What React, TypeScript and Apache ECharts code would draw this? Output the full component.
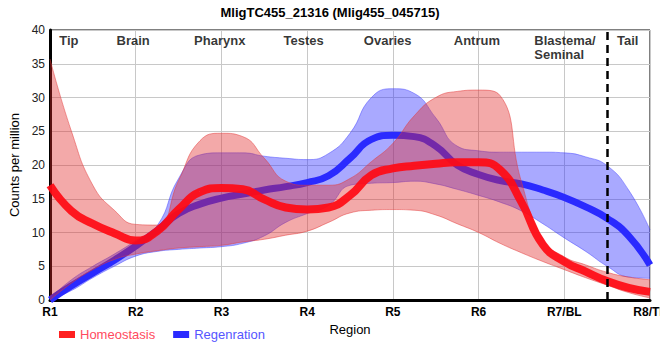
import React, { useEffect, useRef } from "react";
import * as echarts from "echarts";

const chartTitle = "MligTC455_21316 (Mlig455_045715)";
const regionTicks = ["R1", "R2", "R3", "R4", "R5", "R6", "R7/BL", "R8/TL"];
const tissueLabels = ["Tip", "Brain", "Pharynx", "Testes", "Ovaries", "Antrum", "Blastema/\nSeminal", "Tail"];
const tissueX = [1.22, 1.97, 2.98, 3.96, 4.94, 5.98, 6.65, 7.74];
const tailBoundary = 7.5;

const xs = [1, 1.25, 1.5, 1.75, 2, 2.25, 2.5, 2.75, 3, 3.25, 3.5, 3.75, 4, 4.25, 4.5, 4.75, 5, 5.25, 5.5, 5.75, 6, 6.25, 6.5, 6.75, 7, 7.25, 7.5, 7.75, 8];

const homeoMean = [17.0, 13.2, 11.3, 9.9, 8.8, 10.2, 13.4, 16.0, 16.6, 16.4, 14.9, 13.7, 13.4, 13.7, 15.5, 18.5, 19.5, 19.9, 20.2, 20.4, 20.4, 19.3, 14.5, 8.2, 5.7, 4.2, 2.8, 1.8, 1.2];
const homeoUpper = [35.7, 25.0, 17.0, 13.3, 11.2, 11.1, 17.7, 23.6, 24.7, 24.2, 21.0, 17.6, 17.0, 17.0, 18.0, 20.5, 23.2, 27.3, 30.0, 30.9, 31.1, 30.3, 17.5, 9.0, 6.4, 5.2, 4.1, 3.4, 3.0];
const homeoLower = [0, 2.5, 4.5, 6.0, 6.8, 7.3, 7.7, 7.9, 8.1, 8.6, 9.0, 9.6, 10.2, 11.5, 12.9, 13.3, 13.4, 13.3, 12.6, 11.3, 10.0, 8.4, 7.0, 5.7, 4.5, 3.3, 2.2, 1.1, 0.3];

const regenMean = [0.0, 2.1, 4.0, 5.9, 8.0, 10.3, 12.8, 14.2, 15.1, 15.7, 16.3, 16.8, 17.4, 18.4, 21.0, 23.8, 24.4, 24.2, 22.8, 20.0, 18.6, 17.7, 17.2, 16.3, 15.2, 13.8, 12.1, 9.5, 5.2];
const regenUpper = [0.3, 3.0, 5.0, 6.8, 8.8, 11.0, 18.0, 21.5, 21.8, 21.8, 21.3, 21.0, 20.8, 21.7, 24.7, 30.0, 31.3, 30.6, 27.0, 22.8, 22.1, 21.9, 21.9, 21.9, 21.8, 21.2, 19.9, 16.3, 10.4];
const regenLower = [0, 1.4, 3.3, 5.0, 6.5, 7.2, 7.5, 7.7, 7.9, 8.4, 9.5, 11.5, 12.8, 14.0, 17.0, 17.3, 17.4, 17.6, 17.2, 16.4, 15.5, 14.5, 13.2, 11.3, 9.2, 7.2, 5.0, 3.4, 3.2];

const FONT = "'Liberation Sans', Arial, sans-serif";
const STEP = 4; // samples per region

export default function App() {
  const ref = useRef<HTMLDivElement>(null);
  useEffect(() => {
    document.body.style.margin = "0";
    const chart = echarts.init(ref.current!, null, { renderer: "svg" });
    const diff = (u: number[], l: number[]) => u.map((v, i) => +(v - l[i]).toFixed(3));

    const band = (name: string, stack: string, lower: number[], upper: number[], fill: string, edge: string, z: number) => [
      {
        name: name + "_lo",
        type: "line",
        stack,
        z,
        data: lower,
        smooth: true,
        showSymbol: false,
        symbol: "none",
        lineStyle: { width: 1, color: edge },
        silent: true,
      },
      {
        name: name + "_hi",
        type: "line",
        stack,
        z,
        data: diff(upper, lower),
        smooth: true,
        showSymbol: false,
        symbol: "none",
        lineStyle: { width: 1, color: edge },
        areaStyle: { color: fill, opacity: 1 },
        silent: true,
      },
    ];

    const splitEvery = (idx: number) => idx % STEP === 0;

    const option: any = {
      animation: false,
      textStyle: { fontFamily: FONT },
      title: {
        text: chartTitle,
        left: "center",
        top: 1,
        textStyle: { fontFamily: FONT, fontSize: 13, fontWeight: "bold", color: "#000" },
      },
      legend: {
        left: 54,
        top: 323,
        itemWidth: 16,
        itemHeight: 7,
        itemGap: 18,
        icon: "rect",
        data: [
          { name: "Homeostasis", textStyle: { color: "#ff4a5e" } },
          { name: "Regenration", textStyle: { color: "#5555ff" } },
        ],
        textStyle: { fontFamily: FONT, fontSize: 13 },
      },
      grid: {
        left: 50,
        right: 10,
        top: 30,
        bottom: 60,
        show: true,
        borderColor: "#000",
        borderWidth: 1,
        containLabel: false,
        outerBoundsMode: "none",
      },
      xAxis: [
        {
          type: "category",
          data: xs.map(String),
          boundaryGap: false,
          name: "Region",
          nameLocation: "middle",
          nameGap: 23,
          nameTextStyle: { fontFamily: FONT, fontSize: 13, color: "#000" },
          axisLine: { show: true, lineStyle: { color: "#000", width: 3 } },
          axisTick: { show: false },
          axisLabel: {
            interval: (idx: number) => splitEvery(idx),
            formatter: (_v: string, idx: number) => regionTicks[idx / STEP] ?? "",
            fontFamily: FONT,
            fontSize: 12,
            fontWeight: "bold",
            color: "#000",
            margin: 6,
          },
          splitLine: {
            show: true,
            interval: (idx: number) => splitEvery(idx),
            lineStyle: { color: "#c8c8c8", width: 1 },
          },
        },
        {
          type: "value",
          min: 1,
          max: 8,
          show: false,
          splitLine: { show: false },
        },
      ],
      yAxis: {
        type: "value",
        min: 0,
        max: 40,
        interval: 5,
        name: "Counts per million",
        nameLocation: "middle",
        nameGap: 17,
        nameTextStyle: { fontFamily: FONT, fontSize: 13, color: "#000" },
        axisLine: { show: true, lineStyle: { color: "#000", width: 3 } },
        axisTick: { show: false },
        axisLabel: { fontFamily: FONT, fontSize: 12, color: "#222", margin: 5 },
        splitLine: { show: true, lineStyle: { color: "#c8c8c8", width: 1 } },
      },
      series: [
        ...band("regen", "rb", regenLower, regenUpper, "rgba(40,40,255,0.4)", "rgba(60,60,255,0.45)", 1),
        {
          name: "Regenration",
          type: "line",
          z: 2,
          data: regenMean,
          smooth: true,
          showSymbol: false,
          symbol: "none",
          color: "#2a2aff",
          lineStyle: { width: 7, color: "#2a2aff" },
        },
        ...band("homeo", "hb", homeoLower, homeoUpper, "rgba(225,40,40,0.4)", "rgba(230,60,60,0.5)", 3),
        {
          name: "Homeostasis",
          type: "line",
          z: 4,
          data: homeoMean,
          smooth: true,
          showSymbol: false,
          symbol: "none",
          color: "#ff2020",
          lineStyle: { width: 8, color: "rgba(255,10,20,0.92)" },
        },
        {
          name: "tissues",
          type: "scatter",
          z: 5,
          xAxisIndex: 1,
          symbolSize: 0,
          clip: false,
          silent: true,
          data: tissueLabels.map((t, i) => ({
            value: [tissueX[i], 40],
            name: t,
            label: t.includes("\n") ? { align: "left" } : {},
          })),
          label: {
            show: true,
            position: "inside",
            formatter: (p: any) => p.name,
            verticalAlign: "top",
            offset: [0, 3],
            fontFamily: FONT,
            fontSize: 13,
            fontWeight: "bold",
            color: "#000",
            lineHeight: 14,
          },
          markLine: {
            silent: true,
            symbol: "none",
            label: { show: false },
            lineStyle: { color: "#000", type: [8, 5], width: 2.5 },
            data: [{ xAxis: tailBoundary }],
          },
        },
      ],
    };
    chart.setOption(option);
    return () => chart.dispose();
  }, []);
  return <div ref={ref} style={{ width: 660, height: 360 }} />;
}
